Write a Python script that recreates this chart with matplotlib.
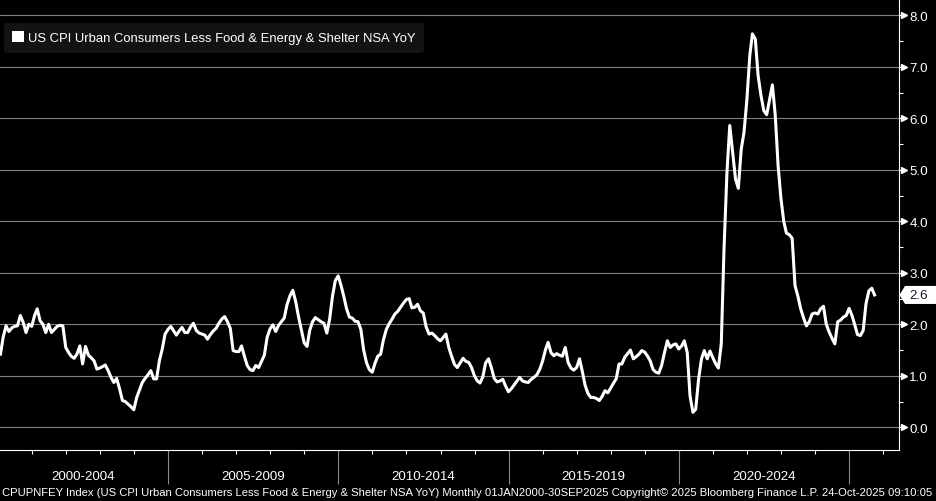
import numpy as np
import pandas as pd
import matplotlib
matplotlib.use("Agg")
import matplotlib.pyplot as plt
import matplotlib.dates as mdates
from matplotlib.patches import Patch, Polygon
from matplotlib.transforms import blended_transform_factory

# ---------------- data (monthly YoY %, Jan-2000 .. Sep-2025) ----------------
v2000 = [1.42, 1.75, 1.97, 1.86, 1.93, 1.96, 1.97, 2.17, 2.04, 1.84, 2.00, 1.96]
v2001 = [2.17, 2.30, 2.07, 2.00, 1.84, 2.00, 1.84, 1.90, 1.96, 1.98, 1.97, 1.55]
v2002 = [1.45, 1.38, 1.34, 1.42, 1.58, 1.23, 1.57, 1.40, 1.35, 1.29, 1.13, 1.15]
v2003 = [1.18, 1.21, 1.10, 0.97, 0.87, 0.95, 0.75, 0.52, 0.50, 0.45, 0.40, 0.34]
v2004 = [0.58, 0.72, 0.87, 0.95, 1.02, 1.10, 0.94, 0.94, 1.29, 1.52, 1.81, 1.90]
v2005 = [1.96, 1.88, 1.79, 1.87, 1.94, 1.84, 1.84, 1.95, 2.02, 1.88, 1.83, 1.81]
v2006 = [1.79, 1.71, 1.80, 1.87, 1.92, 2.02, 2.10, 2.15, 2.05, 1.92, 1.49, 1.47]
v2007 = [1.47, 1.58, 1.38, 1.20, 1.12, 1.10, 1.20, 1.16, 1.28, 1.40, 1.75, 1.91]
v2008 = [1.99, 1.86, 1.98, 2.05, 2.12, 2.38, 2.55, 2.66, 2.45, 2.15, 1.90, 1.64]
v2009 = [1.57, 1.88, 2.05, 2.13, 2.09, 2.05, 2.02, 1.83, 2.10, 2.55, 2.85, 2.94]
v2010 = [2.75, 2.55, 2.30, 2.14, 2.12, 2.06, 2.05, 1.90, 1.50, 1.25, 1.12, 1.07]
v2011 = [1.25, 1.38, 1.42, 1.70, 1.90, 2.01, 2.10, 2.20, 2.25, 2.33, 2.41, 2.48]
v2012 = [2.50, 2.32, 2.33, 2.39, 2.26, 2.22, 1.95, 1.81, 1.83, 1.78, 1.72, 1.68]
v2013 = [1.75, 1.81, 1.55, 1.38, 1.22, 1.16, 1.25, 1.34, 1.28, 1.26, 1.16, 1.00]
v2014 = [0.90, 0.86, 0.98, 1.25, 1.33, 1.16, 0.95, 0.88, 0.90, 0.93, 0.80, 0.69]
v2015 = [0.75, 0.82, 0.90, 0.97, 0.90, 0.88, 0.87, 0.93, 0.97, 1.02, 1.12, 1.28]
v2016 = [1.50, 1.65, 1.45, 1.39, 1.43, 1.40, 1.38, 1.55, 1.26, 1.15, 1.11, 1.16]
v2017 = [1.33, 1.10, 0.82, 0.66, 0.58, 0.58, 0.56, 0.52, 0.60, 0.71, 0.67, 0.76]
v2018 = [0.86, 0.94, 1.23, 1.23, 1.36, 1.43, 1.50, 1.33, 1.37, 1.42, 1.49, 1.46]
v2019 = [1.38, 1.29, 1.12, 1.07, 1.05, 1.20, 1.45, 1.68, 1.55, 1.60, 1.62, 1.52]
v2020 = [1.58, 1.68, 1.45, 0.61, 0.29, 0.35, 0.94, 1.33, 1.49, 1.33, 1.48, 1.35]
v2021 = [1.23, 1.15, 1.62, 3.49, 4.95, 5.86, 5.33, 4.82, 4.64, 5.40, 5.73, 6.37]
v2022 = [7.22, 7.64, 7.54, 6.83, 6.44, 6.15, 6.07, 6.37, 6.65, 6.06, 5.09, 4.44]
v2023 = [3.99, 3.77, 3.74, 3.67, 2.75, 2.55, 2.30, 2.12, 1.97, 2.05, 2.20, 2.22]
v2024 = [2.20, 2.30, 2.35, 2.00, 1.85, 1.73, 1.62, 2.05, 2.08, 2.14, 2.17, 2.31]
v2025 = [2.17, 2.00, 1.80, 1.78, 1.88, 2.40, 2.65, 2.70, 2.57]

values = (v2000 + v2001 + v2002 + v2003 + v2004 + v2005 + v2006 + v2007 + v2008
          + v2009 + v2010 + v2011 + v2012 + v2013 + v2014 + v2015 + v2016 + v2017
          + v2018 + v2019 + v2020 + v2021 + v2022 + v2023 + v2024 + v2025)
dates = pd.date_range("2000-01-31", periods=len(values), freq="ME")

series_name = "US CPI Urban Consumers Less Food & Energy & Shelter NSA YoY"
period_starts = [2000, 2005, 2010, 2015, 2020]
period_labels = ["2000-2004", "2005-2009", "2010-2014", "2015-2019", "2020-2024"]
y_ticks = [0, 1, 2, 3, 4, 5, 6, 7, 8]
y_tick_labels = ["0.0", "1.0", "2.0", "3.0", "4.0", "5.0", "6.0", "7.0", "8.0"]
footer = ("CPUPNFEY Index (US CPI Urban Consumers Less Food & Energy & Shelter NSA YoY) "
          "Monthly 01JAN2000-30SEP2025 Copyright\u00a9 2025 Bloomberg Finance L.P. "
          "24-Oct-2025 09:10:05")

# ---------------- figure ----------------
plt.rcParams["font.family"] = ["Liberation Sans", "DejaVu Sans"]
W, H = 937, 502
fig = plt.figure(figsize=(W / 100, H / 100), dpi=100, facecolor="black")
ax = fig.add_axes([0, 1 - 451 / H, 899 / W, 451 / H], facecolor="black")

ax.plot(dates, values, color="white", lw=2.2, solid_joinstyle="round", zorder=3)

ax.set_xlim(pd.Timestamp("2000-01-26"), pd.Timestamp("2026-06-19"))
ax.set_ylim(-0.441, 8.317)

# grid
ax.set_yticks(y_ticks)
ax.set_yticklabels(y_tick_labels)
ax.yaxis.grid(True, color="#808080", lw=0.8)
ax.xaxis.grid(False)
ax.set_axisbelow(True)

# spines
for s in ["top", "left"]:
    ax.spines[s].set_visible(False)
ax.spines["right"].set_color("white")
ax.spines["right"].set_linewidth(0.8)
ax.spines["bottom"].set_color("white")
ax.spines["bottom"].set_linewidth(0.8)

# y axis on right
ax.yaxis.tick_right()
ax.yaxis.set_minor_locator(matplotlib.ticker.MultipleLocator(0.5))
ax.tick_params(axis="y", which="major", length=3, width=0.8, color="white",
               labelcolor="white", labelsize=9.6, pad=4.5)
ax.tick_params(axis="y", which="minor", length=3, width=0.8, color="white")
ax.plot([1.0056] * len(y_ticks), y_ticks, transform=ax.get_yaxis_transform(),
        marker=">", ms=4.5, color="white", ls="none", clip_on=False)

# x axis
ax.xaxis.set_major_locator(mdates.YearLocator(5))
ax.xaxis.set_minor_locator(mdates.YearLocator(1))
ax.tick_params(axis="x", which="major", length=24.5, width=0.8, color="#8a8a8a",
               labelbottom=False)
ax.tick_params(axis="x", which="minor", length=3, width=0.8, color="white")
xt = ax.get_xaxis_transform()
for start, lab in zip(period_starts, period_labels):
    mid = pd.Timestamp(f"{start + 2}-07-02")
    ax.text(mid, -26 / 451, lab, transform=xt, ha="center", va="center",
            color="white", fontsize=9.6)

# legend
leg = ax.legend(handles=[Patch(facecolor="white", edgecolor="none", label=series_name)],
                loc="upper left", bbox_to_anchor=(4 / 899, 1 - 24 / 451),
                borderaxespad=0, frameon=True, fancybox=True, framealpha=1,
                facecolor="#131313", edgecolor="none", handlelength=0.9,
                handleheight=0.9, handletextpad=0.3, borderpad=0.65,
                prop={"size": 9.35})
for t in leg.get_texts():
    t.set_color("white")

# last value label
last = values[-1]
bt = blended_transform_factory(fig.transFigure, ax.transData)
h = 0.175
poly = Polygon([(899.5 / W, last), (905 / W, last + h), (W / W, last + h),
                (W / W, last - h), (905 / W, last - h)], closed=True,
               facecolor="white", edgecolor="none", transform=bt, clip_on=False)
fig.add_artist(poly)
fig.text(919 / W, last, f"{last:.1f}", transform=bt, ha="center", va="center",
         color="#1a1a33", fontsize=9.6)

# footer
fig.text(2 / W, 1 - 493 / H, footer, ha="left", va="center", color="white",
         fontsize=8.1)

fig.savefig("out.png", dpi=100, facecolor="black")
